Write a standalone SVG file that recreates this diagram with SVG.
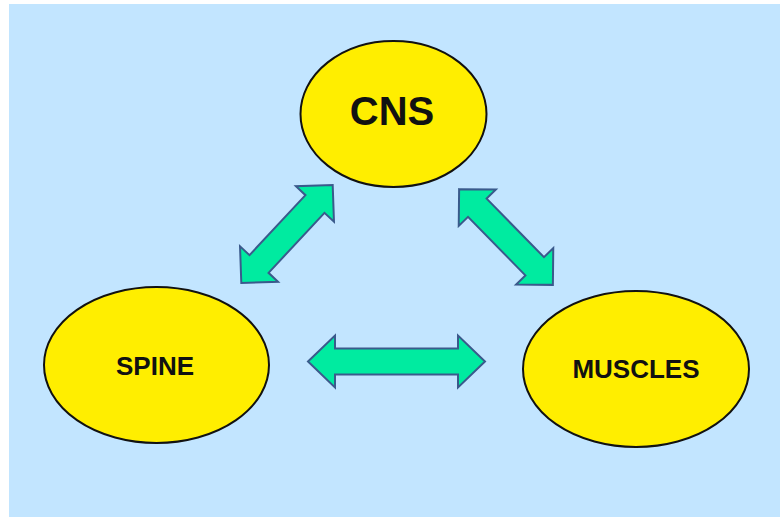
<svg xmlns="http://www.w3.org/2000/svg" width="780" height="517" viewBox="0 0 780 517">
<style>
.node{fill:#FFEE00;stroke:#111;stroke-width:2}
.lbl{font-family:"Liberation Sans",Arial,sans-serif;font-weight:bold;fill:#111;text-anchor:middle}
.arr{fill:#00EBA0;stroke:#3A5A8C;stroke-width:2;stroke-linejoin:miter}
</style>
<rect x="0" y="0" width="780" height="517" fill="#ffffff"/>
<rect x="9" y="4" width="771" height="513" fill="#C2E5FF"/>
<g id="connectors">
<path class="arr" transform="translate(396.5,361.5)" d="M-88.5,0 L-61.5,-26 L-61.5,-13 L61.5,-13 L61.5,-26 L88.5,0 L61.5,26 L61.5,13 L-61.5,13 L-61.5,26 Z"/>
<path class="arr" transform="translate(287,234) rotate(-47)" d="M-67,0 L-41,-26 L-41,-13 L41,-13 L41,-26 L67,0 L41,26 L41,13 L-41,13 L-41,26 Z"/>
<path class="arr" transform="translate(506,237) rotate(45.6)" d="M-67,0 L-41,-26 L-41,-13 L41,-13 L41,-26 L67,0 L41,26 L41,13 L-41,13 L-41,26 Z"/>
</g>
<g id="cns">
<ellipse class="node" cx="393.5" cy="114" rx="93" ry="73"/>
<text class="lbl" x="392" y="125" font-size="40">CNS</text>
</g>
<g id="spine">
<ellipse class="node" cx="156.5" cy="365" rx="112.5" ry="78"/>
<text class="lbl" x="155" y="375" font-size="26">SPINE</text>
</g>
<g id="muscles">
<ellipse class="node" cx="636" cy="369" rx="113" ry="78"/>
<text class="lbl" x="636" y="378" font-size="26">MUSCLES</text>
</g>
</svg>
